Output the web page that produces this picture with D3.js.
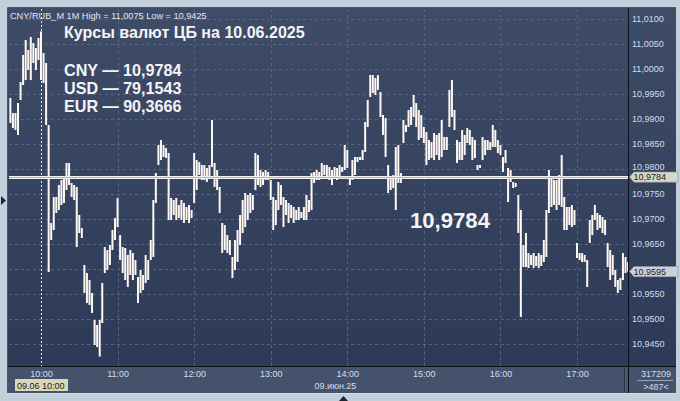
<!DOCTYPE html>
<html><head><meta charset="utf-8">
<script src="https://cdn.jsdelivr.net/npm/d3@7"></script>
<style>
html,body{margin:0;padding:0;background:#c4cfdc;}
svg{display:block;}
text{font-family:"Liberation Sans",Arial,sans-serif;}
</style></head><body>
<svg id="c" width="680" height="401"></svg>
<script>
// ---- data ----
const symbol = "CNY/RUB_M 1M";
const sessionHigh = 11.0075;
const sessionLow = 10.9425;
const title = "Курсы валют ЦБ на 10.06.2025";
const cbrCodes = ["CNY", "USD", "EUR"];
const cbrRates = ["10,9784", "79,1543", "90,3666"];
const cbrCny = 10.9784;
const lastPrice = 10.9595;
const barStart = "09:36";
const barStepMinutes = 2;
const highs = [
10.9942,10.9912,10.9912,10.9932,10.9974,11.0028,11.0058,11.0038,11.0064,11.0052,
11.0042,11.0062,11.0075,11.0032,11.0012,10.9888,10.9692,10.9744,10.9744,10.9768,
10.9778,10.9782,10.9812,10.9812,10.9772,10.9768,10.9764,10.9708,10.9682,10.9608,
10.9592,10.9578,10.9552,10.9498,10.9488,10.9498,10.9572,10.9644,10.9638,10.9648,
10.9678,10.9702,10.9742,10.9668,10.9644,10.9642,10.9628,10.9638,10.9632,10.9618,
10.9584,10.9598,10.9588,10.9628,10.9618,10.9658,10.9738,10.9792,10.9848,10.9858,
10.9848,10.9842,10.9832,10.9742,10.9738,10.9742,10.9728,10.9738,10.9732,10.9724,
10.9728,10.9718,10.9832,10.9818,10.9814,10.9808,10.9808,10.9802,10.9808,10.9898,
10.9812,10.9798,10.9764,10.9692,10.9688,10.9668,10.9658,10.9624,10.9658,10.9678,
10.9708,10.9738,10.9752,10.9748,10.9752,10.9748,10.9832,10.9828,10.9798,10.9794,
10.9798,10.9794,10.9778,10.9744,10.9738,10.9774,10.9768,10.9744,10.9738,10.9732,
10.9728,10.9724,10.9718,10.9724,10.9714,10.9724,10.9748,10.9738,10.9792,10.9794,
10.9798,10.9794,10.9812,10.9808,10.9808,10.9804,10.9798,10.9804,10.9802,10.9808,
10.9804,10.9848,10.9838,10.9784,10.9818,10.9824,10.9824,10.9824,10.9838,10.9894,
10.9938,10.9988,10.9988,10.9982,10.9988,10.9954,10.9908,10.9902,10.9808,10.9782,
10.9788,10.9844,10.9848,10.9792,10.9898,10.9888,10.9918,10.9924,10.9948,10.9932,
10.9918,10.9908,10.9884,10.9874,10.9858,10.9854,10.9872,10.9868,10.9872,10.9898,
10.9864,10.9864,10.9958,10.9978,10.9918,10.9858,10.9854,10.9878,10.9868,10.9882,
10.9878,10.9864,10.9858,10.9808,10.9808,10.9864,10.9858,10.9858,10.9854,10.9888,
10.9878,10.9858,10.9848,10.9824,10.9838,10.9802,10.9798,10.9774,10.9772,10.9748,
10.9718,10.9648,10.9672,10.9632,10.9628,10.9632,10.9626,10.9632,10.9628,10.9658,
10.9718,10.9798,10.9784,10.9778,10.9778,10.9788,10.9828,10.9744,10.9724,10.9724,
10.9728,10.9718,10.9652,10.9632,10.9632,10.9628,10.9618,10.9698,10.9708,10.9728,
10.9712,10.9708,10.9704,10.9698,10.9652,10.9638,10.9628,10.9598,10.9578,10.9582,
10.9632,10.9624,10.9614];
const lows = [
10.9892,10.9882,10.9878,10.9868,10.9938,10.9968,10.9978,10.9998,10.9978,11.0012,
10.9998,11.0018,10.9978,10.9972,10.9888,10.9594,10.9658,10.9678,10.9712,10.9718,
10.9728,10.9732,10.9758,10.9768,10.9744,10.9738,10.9644,10.9672,10.9662,10.9552,
10.9532,10.9528,10.9512,10.9448,10.9444,10.9425,10.9492,10.9592,10.9598,10.9608,
10.9638,10.9658,10.9684,10.9618,10.9592,10.9578,10.9564,10.9588,10.9578,10.9588,
10.9532,10.9552,10.9558,10.9572,10.9578,10.9618,10.9624,10.9732,10.9808,10.9818,
10.9824,10.9822,10.9698,10.9698,10.9708,10.9698,10.9702,10.9698,10.9692,10.9698,
10.9692,10.9702,10.9732,10.9758,10.9788,10.9778,10.9778,10.9774,10.9782,10.9804,
10.9764,10.9758,10.9712,10.9632,10.9638,10.9632,10.9628,10.9582,10.9598,10.9614,
10.9648,10.9672,10.9684,10.9698,10.9712,10.9718,10.9758,10.9768,10.9764,10.9768,
10.9778,10.9778,10.9738,10.9678,10.9688,10.9718,10.9728,10.9684,10.9708,10.9692,
10.9702,10.9692,10.9698,10.9698,10.9702,10.9698,10.9698,10.9714,10.9718,10.9772,
10.9778,10.9778,10.9784,10.9788,10.9784,10.9778,10.9768,10.9782,10.9778,10.9784,
10.9794,10.9798,10.9802,10.9768,10.9778,10.9788,10.9814,10.9818,10.9818,10.9834,
10.9884,10.9944,10.9952,10.9948,10.9958,10.9904,10.9868,10.9824,10.9752,10.9758,
10.9762,10.9718,10.9772,10.9772,10.9852,10.9874,10.9884,10.9888,10.9904,10.9884,
10.9858,10.9862,10.9852,10.9808,10.9818,10.9822,10.9818,10.9828,10.9818,10.9824,
10.9838,10.9838,10.9884,10.9904,10.9878,10.9812,10.9818,10.9818,10.9828,10.9852,
10.9848,10.9818,10.9822,10.9798,10.9802,10.9818,10.9828,10.9838,10.9838,10.9844,
10.9844,10.9832,10.9828,10.9794,10.9812,10.9734,10.9774,10.9762,10.9764,10.9672,
10.9504,10.9604,10.9604,10.9602,10.9608,10.9602,10.9606,10.9602,10.9606,10.9614,
10.9624,10.9712,10.9724,10.9728,10.9718,10.9728,10.9724,10.9678,10.9678,10.9688,
10.9684,10.9688,10.9622,10.9618,10.9614,10.9614,10.9564,10.9652,10.9668,10.9698,
10.9678,10.9682,10.9672,10.9668,10.9604,10.9578,10.9588,10.9564,10.9552,10.9558,
10.9578,10.9592,10.9595];
const yTickValues = [10.945,10.95,10.955,10.96,10.965,10.97,10.975,10.98,10.985,10.99,10.995,11.0,11.005,11.01];
const hourTicks = ["10:00","11:00","12:00","13:00","14:00","15:00","16:00","17:00"];
const dateLabel = "09.июн.25";
const cursorLabel = "09.06 10:00";
const barCount = "317209";
const visibleBars = ">487<";

// ---- layout ----
const W = 680, H = 401;
const P = {l: 9, t: 9, r: 628, b: 366};
const svg = d3.select("#c");
const parse = d3.timeParse("%Y-%m-%d %H:%M");
const day = "2025-06-09 ";
const x = d3.scaleTime().domain([parse(day + "10:00"), parse(day + "17:00")]).range([41, 577]);
const y = d3.scaleLinear().domain([10.945, 11.01]).range([344, 19]);
const startLocal = parse(day + barStart);
const bars = highs.map((h, i) => ({t: d3.timeMinute.offset(startLocal, i * barStepMinutes), h, l: lows[i]}));
const fmt = v => d3.format(".4f")(v).replace(".", ",");

const defs = svg.append("defs");
const g1 = defs.append("linearGradient").attr("id", "bg").attr("x1", 0).attr("x2", 0).attr("y1", 0).attr("y2", 1);
g1.append("stop").attr("offset", "0%").attr("stop-color", "#3f4c68");
g1.append("stop").attr("offset", "100%").attr("stop-color", "#2c3956");
defs.append("clipPath").attr("id", "plotclip").append("rect")
  .attr("x", P.l).attr("y", P.t).attr("width", P.r - P.l).attr("height", P.b - P.t);

// outer
svg.append("rect").attr("width", W).attr("height", H).attr("fill", "#c4cfdc");
// panel
svg.append("rect").attr("x", 8).attr("y", 8).attr("width", 668).attr("height", 385).attr("fill", "url(#bg)");
svg.append("rect").attr("x", 8).attr("y", 367).attr("width", 668).attr("height", 26).attr("fill", "#44526c");
svg.append("line").attr("x1", 7.5).attr("x2", 7.5).attr("y1", 7.5).attr("y2", 393).attr("stroke", "#4e596b");
svg.append("line").attr("x1", 7.5).attr("x2", 676).attr("y1", 7.5).attr("y2", 7.5).attr("stroke", "#4e596b");
svg.append("line").attr("x1", 8).attr("x2", 676).attr("y1", 393.5).attr("y2", 393.5).attr("stroke", "#d7dee7");

// grid
const grid = svg.append("g").attr("shape-rendering", "crispEdges");
grid.selectAll(".hg").data(yTickValues).join("line")
  .attr("x1", P.l).attr("x2", P.r).attr("y1", d => Math.round(y(d)) + 0.5).attr("y2", d => Math.round(y(d)) + 0.5)
  .attr("stroke", "#56647f").attr("stroke-dasharray", "3,3");
grid.selectAll(".vg").data(hourTicks.slice(1)).join("line")
  .attr("x1", d => Math.round(x(parse(day + d))) + 0.5).attr("x2", d => Math.round(x(parse(day + d))) + 0.5)
  .attr("y1", P.t).attr("y2", P.b)
  .attr("stroke", "#56647f").attr("stroke-dasharray", "3,3");
// session start marker (10:00)
svg.append("line")
  .attr("x1", Math.round(x(parse(day + hourTicks[0]))) + 0.5).attr("x2", Math.round(x(parse(day + hourTicks[0]))) + 0.5)
  .attr("y1", P.t).attr("y2", P.b).attr("stroke", "#e4e8ee").attr("stroke-dasharray", "2,2")
  .attr("shape-rendering", "crispEdges");

// bars
const bw = 2.0;
svg.append("g").attr("clip-path", "url(#plotclip)")
  .selectAll("rect").data(bars).join("rect")
  .attr("x", d => x(d.t) - bw / 2)
  .attr("y", d => y(d.h))
  .attr("width", bw)
  .attr("height", d => Math.max(1, y(d.l) - y(d.h)))
  .attr("fill", "#fff8f2");

// CBR price line
const yc = y(cbrCny);
svg.append("rect").attr("x", P.l).attr("y", yc - 1).attr("width", P.r - P.l).attr("height", 3).attr("fill", "#f2f2f2");
svg.append("rect").attr("x", P.l).attr("y", yc).attr("width", P.r - P.l).attr("height", 1).attr("fill", "#b0b5bd");

// axis lines
svg.append("line").attr("x1", 628.5).attr("x2", 628.5).attr("y1", 8).attr("y2", 393).attr("stroke", "#0c0f16");
svg.append("line").attr("x1", 8).attr("x2", 676).attr("y1", 366.5).attr("y2", 366.5).attr("stroke", "#0c0f16");
// bottom separator
svg.append("line").attr("x1", 624.5).attr("x2", 624.5).attr("y1", 369).attr("y2", 392).attr("stroke", "#262c38");
svg.append("line").attr("x1", 625.5).attr("x2", 625.5).attr("y1", 369).attr("y2", 392).attr("stroke", "#56627a");

// right axis (labels hidden behind the price tags are not drawn; the partly covered one is clipped)
const tagYs = [y(cbrCny), y(lastPrice)];
const shownTicks = yTickValues.filter(v => tagYs.every(ty => Math.abs(y(v) - ty) > 5));
defs.append("clipPath").attr("id", "axclip").append("path")
  .attr("d", `M629,0 H680 V${tagYs[0] - 5.2} H629 Z M629,${tagYs[0] + 5.5} H680 V401 H629 Z`);
const yAxis = svg.append("g").attr("transform", "translate(629,0)")
  .call(d3.axisRight(y).tickValues(shownTicks).tickSize(0).tickPadding(3).tickFormat(fmt));
yAxis.select(".domain").remove();
yAxis.selectAll("text").attr("fill", "#d6dde8").attr("font-size", "9px")
  .attr("font-family", "'Liberation Sans', Arial, sans-serif");
yAxis.selectAll(".tick").filter(v => Math.abs(y(v) - tagYs[0]) < 10 && y(v) < tagYs[0])
  .select("text").attr("dy", "0.1em");

// bottom axis
const xAxis = svg.append("g").attr("transform", "translate(0,367)")
  .call(d3.axisBottom(x).tickValues(hourTicks.map(d => parse(day + d))).tickSize(0).tickPadding(4)
    .tickFormat(d3.timeFormat("%H:%M")));
xAxis.select(".domain").remove();
xAxis.selectAll("text").attr("fill", "#d6dde8").attr("font-size", "9px")
  .attr("font-family", "'Liberation Sans', Arial, sans-serif");

// price tags
function tag(v, fill) {
  const yy = y(v);
  const g = svg.append("g");
  g.append("path").attr("d", `M629.5,${yy} L634,${yy - 5} L678,${yy - 5} L678,${yy + 5.2} L634,${yy + 5.2} Z`)
    .attr("fill", fill).attr("stroke", "#8d93a0").attr("stroke-width", 0.6);
  g.append("text").attr("x", 633.5).attr("y", yy + 3.4).attr("font-size", "9px").attr("fill", "#1b1b1b").text(fmt(v));
}
tag(cbrCny, "#d6d8c6");
tag(lastPrice, "#cbd0d8");

// bottom labels
svg.append("rect").attr("x", 15).attr("y", 379).attr("width", 53).attr("height", 12).attr("fill", "#dad7b8");
svg.append("text").attr("x", 17).attr("y", 388.5).attr("font-size", "9px").attr("fill", "#1b1b1b").text(cursorLabel);
svg.append("text").attr("x", 335.5).attr("y", 388.5).attr("text-anchor", "middle").attr("font-size", "9px").attr("fill", "#d6dde8").text(dateLabel);
svg.append("text").attr("x", 656).attr("y", 376.5).attr("text-anchor", "middle").attr("font-size", "9px").attr("fill", "#d6dde8").text(barCount);
svg.append("line").attr("x1", 637).attr("x2", 673).attr("y1", 380.5).attr("y2", 380.5).attr("stroke", "#9aa6b8");
svg.append("text").attr("x", 656).attr("y", 389.5).attr("text-anchor", "middle").attr("font-size", "9px").attr("fill", "#d6dde8").text(visibleBars);

// header & titles
function fit(sel, w) {
  const n = sel.node();
  const cur = parseFloat(sel.attr("font-size"));
  const m = n.getComputedTextLength();
  sel.attr("font-size", (cur * w / m).toFixed(2) + "px");
}
const hdr = svg.append("text").attr("x", 10).attr("y", 19).attr("font-size", "10px").attr("fill", "#e2e7ef")
  .text(`${symbol} High = ${fmt(sessionHigh)} Low = ${fmt(sessionLow)}`);
fit(hdr, 197);
const tt = svg.append("text").attr("x", 64).attr("y", 38).attr("font-size", "15px").attr("font-weight", "bold")
  .attr("fill", "#f4f4f4").text(title);
fit(tt, 241);
cbrCodes.forEach((c, i) => {
  const t = svg.append("text").attr("x", 64).attr("y", 76 + i * 18).attr("font-size", "16px").attr("font-weight", "bold")
    .attr("fill", "#f4f4f4").text(`${c} — ${cbrRates[i]}`);
  fit(t, 117.5);
});
const big = svg.append("text").attr("x", 410).attr("y", 227.5).attr("font-size", "22px").attr("font-weight", "bold")
  .attr("fill", "#f4f4f4").text(fmt(cbrCny));
fit(big, 80);

// small markers
svg.append("path").attr("d", "M1,196 L6,200.5 L1,205 Z").attr("fill", "#1c2536");
svg.append("path").attr("d", "M343.5,396 L339,401 L348,401 Z").attr("fill", "#1c2536");
</script>
</body></html>
